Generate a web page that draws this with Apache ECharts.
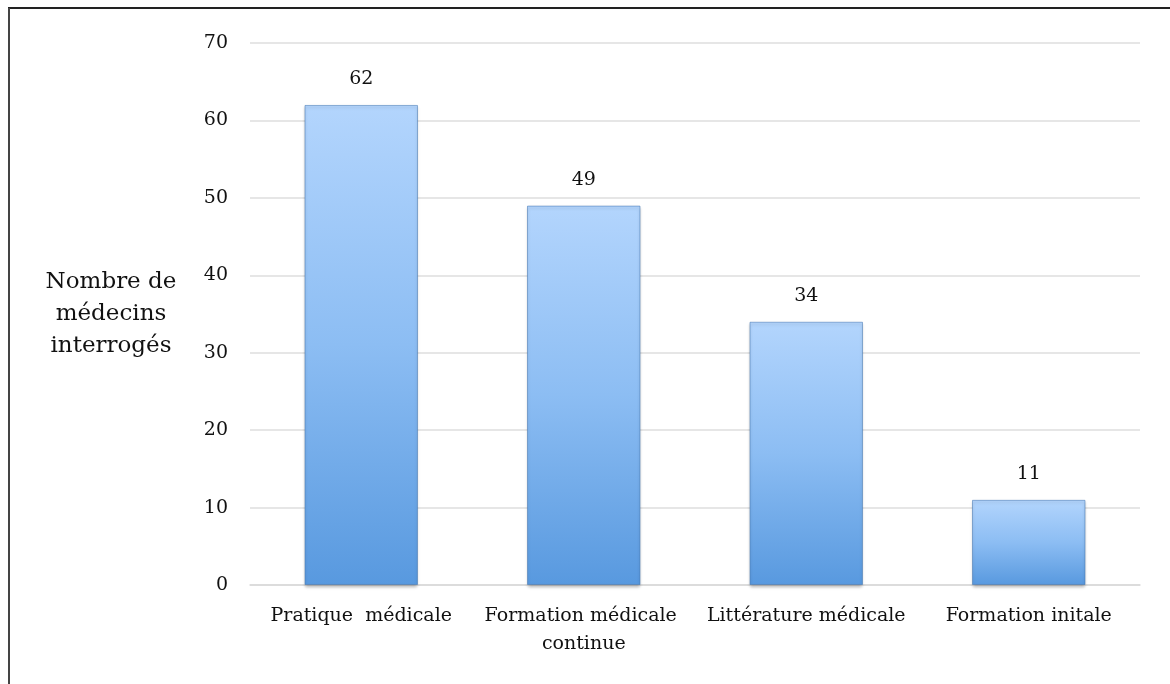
<!DOCTYPE html>
<html>
<head>
<meta charset="utf-8">
<script src="https://cdn.jsdelivr.net/npm/echarts@6/dist/echarts.min.js"></script>
<style>
  html, body { margin: 0; padding: 0; background: #fff; }
  #chart { width: 1170px; height: 684px; }
</style>
</head>
<body>
<div id="chart"></div>
<script>
// data
const categories = ['Pratique  médicale', 'Formation médicale continue', 'Littérature médicale', 'Formation initale'];
const values = [62, 49, 34, 11];
const yTicks = { min: 0, max: 70, interval: 10 };

const font = 'DejaVu Serif';
const chart = echarts.init(document.getElementById('chart'));

const option = {
  animation: false,
  textStyle: { fontFamily: font },
  grid: { left: 250, right: 30, top: 43, bottom: 99 },
  // frame lines on top and left, as in the picture
  graphic: [
    { type: 'line', shape: { x1: 8, y1: 8, x2: 1170, y2: 8 }, style: { stroke: '#222', lineWidth: 2 } },
    { type: 'line', shape: { x1: 9, y1: 8, x2: 9, y2: 684 }, style: { stroke: '#444', lineWidth: 2 } }
  ],
  xAxis: {
    type: 'category',
    data: categories,
    axisLine: { lineStyle: { color: '#d9d9d9', width: 1.5 } },
    axisTick: { show: false },
    axisLabel: {
      color: '#111',
      fontSize: 19,
      fontFamily: font,
      margin: 17,
      width: 222,
      overflow: 'break',
      lineHeight: 28,
      interval: 0
    }
  },
  yAxis: {
    type: 'value',
    min: yTicks.min,
    max: yTicks.max,
    interval: yTicks.interval,
    name: 'Nombre de\nmédecins\ninterrogés',
    nameLocation: 'middle',
    nameRotate: 0,
    nameGap: 139,
    nameTextStyle: {
      color: '#111', fontSize: 23, fontFamily: font,
      align: 'center', verticalAlign: 'middle', lineHeight: 32, padding: [12, 0, 0, 0]
    },
    axisLine: { show: false },
    axisTick: { show: false },
    axisLabel: { color: '#111', fontSize: 19, fontFamily: font, margin: 22 },
    splitLine: { lineStyle: { color: '#dedede', width: 1.5 } }
  },
  series: [{
    type: 'bar',
    data: values,
    barWidth: '51%',
    itemStyle: {
      color: new echarts.graphic.LinearGradient(0, 0, 0, 1, [
        { offset: 0, color: '#b3d5fd' },
        { offset: 0.5, color: '#8cbdf3' },
        { offset: 1, color: '#5899df' }
      ]),
      borderColor: 'rgba(70,120,180,0.55)',
      borderWidth: 1,
      shadowColor: 'rgba(0,0,0,0.25)',
      shadowBlur: 3,
      shadowOffsetY: 2
    },
    label: {
      show: true,
      position: 'top',
      distance: 16,
      color: '#111',
      fontSize: 19,
      fontFamily: font
    }
  }]
};

chart.setOption(option);
</script>
</body>
</html>
